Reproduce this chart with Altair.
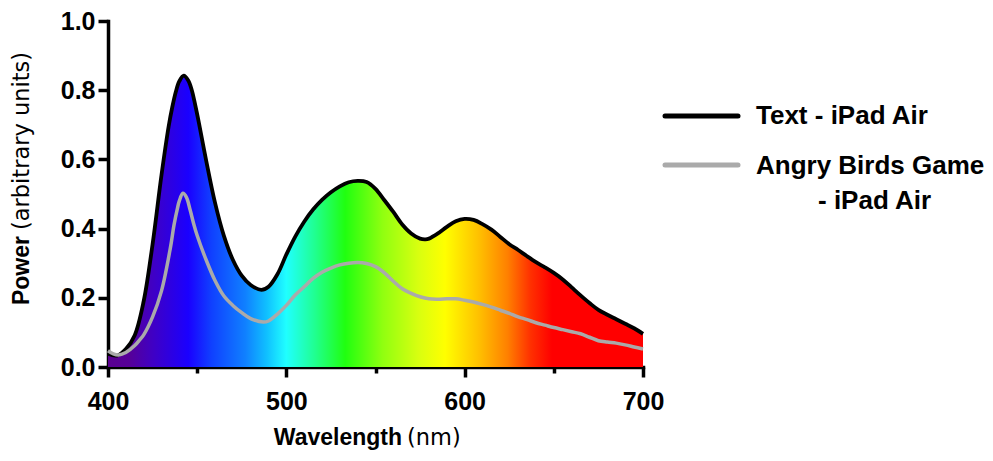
import altair as alt
import pandas as pd

# ---- data ----
wl_text = [400, 405, 410, 415, 420, 425, 430, 434, 436, 438, 440, 442.5, 445, 447, 449,
           451, 455, 460, 465, 470, 475, 480, 486, 490, 495, 500, 505, 510, 515, 520,
           525, 530, 535, 540, 545, 550, 555, 560, 565, 570, 575, 578, 580, 585, 590,
           595, 600, 605, 610, 615, 620, 625, 630, 635, 640, 645, 650, 655, 660, 665,
           670, 675, 680, 685, 690, 695, 700]
power_text = [0.038, 0.033, 0.052, 0.092, 0.190, 0.355, 0.555, 0.695, 0.750, 0.795, 0.826,
              0.842, 0.828, 0.800, 0.755, 0.705, 0.598, 0.475, 0.379, 0.310, 0.264, 0.237,
              0.223, 0.232, 0.268, 0.325, 0.377, 0.420, 0.455, 0.483, 0.505, 0.522, 0.534,
              0.538, 0.535, 0.515, 0.482, 0.448, 0.412, 0.386, 0.371, 0.369, 0.371, 0.386,
              0.405, 0.421, 0.428, 0.425, 0.413, 0.397, 0.376, 0.355, 0.338, 0.320, 0.303,
              0.288, 0.272, 0.253, 0.230, 0.207, 0.185, 0.165, 0.151, 0.138, 0.125, 0.112,
              0.096]

wl_game = [400, 403, 406, 410, 415, 418, 420, 425, 430, 435, 437, 439, 440, 442, 444,
           446, 448, 450, 455, 460, 465, 470, 475, 480, 487, 490, 495, 500, 505, 510,
           515, 520, 525, 530, 535, 540, 545, 550, 555, 560, 565, 570, 575, 580, 585,
           590, 595, 600, 605, 610, 615, 620, 625, 630, 635, 640, 645, 650, 655, 660,
           665, 670, 675, 680, 685, 690, 695, 700]
power_game = [0.047, 0.038, 0.035, 0.042, 0.062, 0.080, 0.093, 0.145, 0.220, 0.345, 0.410,
              0.460, 0.480, 0.502, 0.490, 0.455, 0.415, 0.380, 0.310, 0.250, 0.205, 0.178,
              0.157, 0.140, 0.130, 0.133, 0.153, 0.178, 0.208, 0.232, 0.256, 0.274, 0.286,
              0.295, 0.300, 0.302, 0.299, 0.290, 0.272, 0.248, 0.226, 0.213, 0.203, 0.197,
              0.196, 0.197, 0.197, 0.193, 0.188, 0.181, 0.173, 0.164, 0.155, 0.145, 0.137,
              0.128, 0.121, 0.114, 0.108, 0.102, 0.096, 0.086, 0.076, 0.072, 0.069, 0.064,
              0.058, 0.052]

series_names = ["Text - iPad Air", "Angry Birds Game", "- iPad Air"]
x_ticks = [400, 450, 500, 550, 600, 650, 700]
y_ticks = [0.0, 0.2, 0.4, 0.6, 0.8, 1.0]

# spectrum colours (wavelength nm, colour)
spec_nm = [400, 412, 425, 445, 458, 477, 489, 500, 516, 533, 554, 574, 589, 608, 624, 637, 649, 700]
spec_col = ["#5a0090", "#560098", "#4000c4", "#1a00ff", "#1040ff", "#1080ff", "#10c0ff",
            "#20ffff", "#20ff90", "#20ff10", "#90ff10", "#d8ff10", "#ffff00", "#ffc000",
            "#ff8000", "#ff3000", "#ff0000", "#ff0000"]

df_text = pd.DataFrame({"wavelength": wl_text, "power": power_text})
df_game = pd.DataFrame({"wavelength": wl_game, "power": power_game})

gradient = alt.Gradient(
    gradient="linear",
    stops=[alt.GradientStop(color=c, offset=(n - 400) / 300) for n, c in zip(spec_nm, spec_col)],
    x1=0, x2=1, y1=0, y2=0,
)

x_enc = alt.X("wavelength:Q",
              scale=alt.Scale(domain=[400, 700], nice=False, zero=False),
              axis=alt.Axis(values=x_ticks, title=None, labelFlush=False,
                            labelExpr="datum.value % 100 === 0 ? datum.label : ''",
                            tickSize={"condition": {"test": "datum.value % 100 === 0", "value": 10}, "value": 6},
                            labelPadding=12))
y_enc = alt.Y("power:Q",
              scale=alt.Scale(domain=[0, 1], nice=False),
              axis=alt.Axis(values=y_ticks, title=None, format=".1f", tickSize=10,
                            labelPadding=3, labelFlush=False))

INTERP = "catmull-rom"
area = alt.Chart(df_text).mark_area(interpolate=INTERP, color=gradient).encode(x=x_enc, y=y_enc)
black_line = alt.Chart(df_text).mark_line(interpolate=INTERP, color="black", strokeWidth=3.8,
                                          strokeJoin="round").encode(x="wavelength:Q", y="power:Q")
gray_line = alt.Chart(df_game).mark_line(interpolate=INTERP, color="#aaaaaa", strokeWidth=3.5,
                                         strokeJoin="round").encode(x="wavelength:Q", y="power:Q")

one = alt.Data(values=[{}])
BOLD = "Liberation Sans"
NORMAL = "DejaVu Sans"

def txt(text, x, y, size, weight="bold", font=BOLD, align="left", baseline="middle", angle=0):
    return alt.Chart(one).mark_text(text=text, align=align, baseline=baseline, fontSize=size,
                                    fontWeight=weight, font=font, color="black", angle=angle
                                    ).encode(x=alt.value(x), y=alt.value(y))

TOP = 13
H = 346
# positions below are relative to the plot's top-left corner
x_title_b = txt("Wavelength", 294, 437 - TOP, 23, align="right", baseline="alphabetic")
x_title_n = txt("(nm)", 299, 437 - TOP, 22.5, weight="normal", font=NORMAL, align="left", baseline="alphabetic")
y_title_b = txt("Power", -86, 228 - TOP, 23, align="right", angle=270)
y_title_n = txt("(arbitrary units)", -86, 222 - TOP, 22.5, weight="normal", font=NORMAL, align="left", angle=270)

# legend
leg_rule1 = alt.Chart(one).mark_rule(color="black", strokeWidth=5, strokeCap="round").encode(
    x=alt.value(557), x2=alt.value(630), y=alt.value(108 - TOP))
leg_rule2 = alt.Chart(one).mark_rule(color="#aaaaaa", strokeWidth=5, strokeCap="round").encode(
    x=alt.value(557), x2=alt.value(630), y=alt.value(157 - TOP))
leg_t1 = txt(series_names[0], 648, 108 - TOP, 26)
leg_t2 = txt(series_names[1], 648, 158 - TOP, 26)
leg_t3 = txt(series_names[2], 710, 193 - TOP, 26)

chart = alt.layer(
    area, black_line, gray_line,
    x_title_b, x_title_n, y_title_b, y_title_n,
    leg_rule1, leg_rule2, leg_t1, leg_t2, leg_t3,
).properties(
    width=535, height=H,
    autosize=alt.AutoSizeParams(type="none"),
    padding={"left": 100, "top": TOP, "right": 342, "bottom": 86},
).configure_view(stroke=None).configure_axis(
    grid=False,
    domainColor="black", domainWidth=3.5, domainCap="square",
    tickColor="black", tickWidth=3.5,
    labelFont=BOLD, labelFontWeight="bold", labelFontSize=25, labelColor="black",
)

chart.save("out.html", embed_options={"renderer": "svg", "actions": False})
